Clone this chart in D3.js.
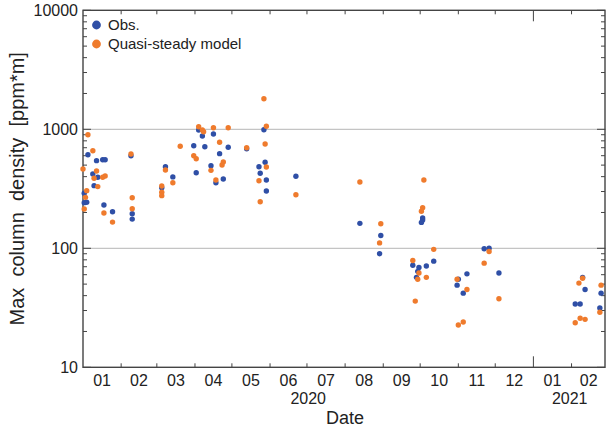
<!DOCTYPE html>
<html>
<head>
<meta charset="utf-8">
<script src="https://cdn.jsdelivr.net/npm/d3@7"></script>
<style>
  body { margin: 0; background: #fff; }
  svg { display: block; font-family: "Liberation Sans", Arial, Helvetica, sans-serif; }
</style>
</head>
<body>
<div id="chart"></div>
<script>
// observed column densities (date, ppm*m)
var obsDates = ['2020-01-05','2020-01-12','2020-01-17','2020-01-19','2020-01-09','2020-01-13','2020-01-10','2020-01-02','2020-01-02','2020-01-04',
	'2020-01-18','2020-01-25','2020-02-09','2020-02-10','2020-02-10','2020-03-08','2020-03-05','2020-03-14','2020-03-31','2020-04-02',
	'2020-04-04','2020-04-07','2020-04-09','2020-04-14','2020-04-16','2020-04-18','2020-04-21','2020-04-24','2020-04-28','2020-05-13',
	'2020-05-27','2020-05-28','2020-05-23','2020-05-24','2020-05-29','2020-05-29','2020-06-22','2020-08-13','2020-08-30','2020-08-29',
	'2020-10-03','2020-10-03','2020-10-02','2020-10-12','2020-09-25','2020-09-30','2020-10-06','2020-09-29','2020-09-28','2020-10-31',
	'2020-11-01','2020-11-08','2020-11-05','2020-11-22','2020-11-26','2020-12-04','2021-02-04','2021-02-08','2021-02-10','2021-02-12',
	'2021-02-25','2021-02-24'];
var obsValues = [612,545,555,555,421,395,336,290,242,244,
	231,203,600,195,176,485,323,398,728,432,
	986,878,714,494,913,356,624,382,706,687,
	992,528,485,427,375,303,403,162,128,90,
	180,173,165,78,72,69,71,64,57,49,
	55,61,42,99,100,62,34,34,57,45,
	42,31.5];

// quasi-steady model column densities
var modelDates = ['2020-01-05','2020-01-09','2020-01-01','2020-01-12','2020-01-10','2020-01-17','2020-01-19','2020-01-13','2020-01-04','2020-01-03',
	'2020-01-02','2020-01-18','2020-01-25','2020-02-09','2020-02-10','2020-02-10','2020-03-08','2020-03-05','2020-03-05','2020-03-05',
	'2020-03-14','2020-03-20','2020-03-31','2020-04-02','2020-04-04','2020-04-07','2020-04-08','2020-04-14','2020-04-16','2020-04-18',
	'2020-04-21','2020-04-24','2020-04-23','2020-04-28','2020-05-13','2020-05-27','2020-05-29','2020-05-28','2020-05-29','2020-05-23',
	'2020-05-24','2020-06-22','2020-08-13','2020-08-30','2020-08-29','2020-10-04','2020-10-03','2020-10-02','2020-10-12','2020-09-25',
	'2020-09-30','2020-09-29','2020-10-06','2020-09-27','2020-10-31','2020-11-08','2020-11-01','2020-11-05','2020-11-26','2020-11-22',
	'2020-12-04','2021-02-04','2021-02-08','2021-02-12','2021-02-07','2021-02-10','2021-02-25','2021-02-24'];
var modelValues = [901,661,464,446,388,395,405,330,305,268,
	214,198,166,620,266,215,455,334,296,277,
	356,720,600,566,1050,987,955,452,1031,375,
	778,531,501,1031,700,1807,1060,752,482,370,
	246,282,361,161,111,375,219,205,98,79,
	62,55,57,36,55,45,22.7,24,94,75,
	37.7,23.7,25.8,25.3,51,56,49,29];

var yTickValues = [10, 100, 1000, 10000];
var gridValues = [100, 1000];
var monthLabels = ['01','02','03','04','05','06','07','08','09','10','11','12','01','02'];
var yearLabels = ['2020', '2021'];
var legendLabels = ['Obs.', 'Quasi-steady model'];

var width = 606, height = 432;
var plotLeft = 83, plotRight = 606, plotTop = 10.3, plotBottom = 367.3;
var blue = '#2f4fa6', orange = '#ef7b2d', frameColor = '#444';

var parseDate = d3.utcParse('%Y-%m-%d');
var start = parseDate('2020-01-01'), end = parseDate('2021-03-01');

var x = d3.scaleUtc().domain([start, end]).range([plotLeft, plotRight]);
var y = d3.scaleLog().domain([10, 10000]).range([plotBottom, plotTop]);

var svg = d3.select('#chart').append('svg')
	.attr('width', width)
	.attr('height', height);

// grid lines
svg.append('g').selectAll('line')
	.data(gridValues)
	.enter().append('line')
		.attr('x1', plotLeft).attr('x2', plotRight)
		.attr('y1', d => y(d)).attr('y2', d => y(d))
		.attr('stroke', '#c4c4c4')
		.attr('stroke-width', 1.2);

// minor and major ticks on left / right edges
var minorY = [];
[10, 100, 1000].forEach(function(dec) { for (var k = 2; k <= 9; k++) minorY.push(k*dec); });
var xr = plotRight - 1;
var ticks = svg.append('g').attr('stroke', frameColor).attr('stroke-width', 1);
minorY.forEach(function(v) {
	ticks.append('line').attr('x1', plotLeft).attr('x2', plotLeft + 4).attr('y1', y(v)).attr('y2', y(v));
	ticks.append('line').attr('x1', xr).attr('x2', xr - 4).attr('y1', y(v)).attr('y2', y(v));
});
yTickValues.forEach(function(v) {
	ticks.append('line').attr('x1', plotLeft).attr('x2', plotLeft + 8).attr('y1', y(v)).attr('y2', y(v));
	ticks.append('line').attr('x1', xr).attr('x2', xr - 8).attr('y1', y(v)).attr('y2', y(v));
});

// month ticks top and bottom, longer at year boundary
var months = d3.utcMonth.range(d3.utcMonth.offset(start, 1), end);
months.forEach(function(m) {
	var len = m.getUTCMonth() === 0 ? 11 : 4;
	ticks.append('line').attr('x1', x(m)).attr('x2', x(m)).attr('y1', plotBottom).attr('y2', plotBottom - len);
	ticks.append('line').attr('x1', x(m)).attr('x2', x(m)).attr('y1', plotTop).attr('y2', plotTop + len);
});

// frame
svg.append('rect')
	.attr('x', plotLeft).attr('y', plotTop)
	.attr('width', xr - plotLeft).attr('height', plotBottom - plotTop)
	.attr('fill', 'none')
	.attr('stroke', frameColor)
	.attr('stroke-width', 1.4);

// y tick labels
svg.append('g').selectAll('text')
	.data(yTickValues)
	.enter().append('text')
		.attr('x', 78)
		.attr('y', d => y(d))
		.attr('dy', '0.36em')
		.attr('text-anchor', 'end')
		.attr('font-size', 16)
		.attr('fill', '#222')
		.text(d => d);

// month labels in the middle of each month
var allMonths = d3.utcMonth.range(start, end);
svg.append('g').selectAll('text')
	.data(allMonths)
	.enter().append('text')
		.attr('x', d => x(new Date((+d + +d3.utcMonth.offset(d, 1)) / 2)))
		.attr('y', 385.5)
		.attr('text-anchor', 'middle')
		.attr('font-size', 16)
		.attr('fill', '#222')
		.text((d, i) => monthLabels[i]);

// year labels centred on the visible part of each year
var years = [[start, parseDate('2021-01-01')], [parseDate('2021-01-01'), end]];
svg.append('g').selectAll('text')
	.data(years)
	.enter().append('text')
		.attr('x', d => (x(d[0]) + x(d[1])) / 2)
		.attr('y', 404)
		.attr('text-anchor', 'middle')
		.attr('font-size', 16)
		.attr('fill', '#222')
		.text((d, i) => yearLabels[i]);

// axis titles
svg.append('text')
	.attr('x', 345).attr('y', 424)
	.attr('text-anchor', 'middle')
	.attr('font-size', 18)
	.attr('fill', '#222')
	.text('Date');

svg.append('text')
	.attr('transform', 'translate(24,' + ((plotTop + plotBottom) / 2) + ') rotate(-90)')
	.attr('text-anchor', 'middle')
	.attr('font-size', 20)
	.attr('fill', '#222')
	.style('white-space', 'pre')
	.text('Max  column  density  [ppm*m]');

// data points
var obs = obsDates.map((d, i) => ({date: parseDate(d), value: obsValues[i]}));
var model = modelDates.map((d, i) => ({date: parseDate(d), value: modelValues[i]}));

svg.append('g').selectAll('circle')
	.data(obs)
	.enter().append('circle')
		.attr('cx', d => x(d.date))
		.attr('cy', d => y(d.value))
		.attr('r', 2.7)
		.attr('fill', blue);

svg.append('g').selectAll('circle')
	.data(model)
	.enter().append('circle')
		.attr('cx', d => x(d.date))
		.attr('cy', d => y(d.value))
		.attr('r', 2.7)
		.attr('fill', orange);

// legend
var legend = svg.append('g');
[blue, orange].forEach(function(c, i) {
	legend.append('circle')
		.attr('cx', 96.5).attr('cy', 25 + i*19)
		.attr('r', 4.4)
		.attr('fill', c);
	legend.append('text')
		.attr('x', 108).attr('y', 25 + i*19)
		.attr('dy', '0.36em')
		.attr('font-size', 15)
		.attr('fill', '#222')
		.text(legendLabels[i]);
});
</script>
</body>
</html>
